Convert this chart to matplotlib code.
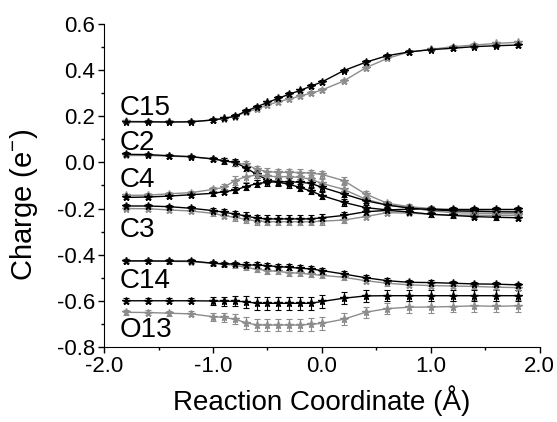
import numpy as np
import matplotlib
matplotlib.use("Agg")
import matplotlib.pyplot as plt
from matplotlib.ticker import MultipleLocator, FormatStrFormatter

plt.rcParams['font.family'] = ['Liberation Sans', 'DejaVu Sans']
plt.rcParams['mathtext.fontset'] = 'custom'
plt.rcParams['mathtext.rm'] = 'Liberation Sans'

# Reaction coordinate (Angstrom)
x = [-1.8, -1.6, -1.4, -1.2, -1.0, -0.9, -0.8, -0.7, -0.6, -0.5, -0.4, -0.3,
     -0.2, -0.1, 0.0, 0.2, 0.4, 0.6, 0.8, 1.0, 1.2, 1.4, 1.6, 1.8]

# charges, black = set 1, gray = set 2
c15_black = [0.176, 0.176, 0.175, 0.176, 0.184, 0.191, 0.200, 0.222, 0.241, 0.260, 0.278, 0.296,
             0.312, 0.331, 0.349, 0.398, 0.434, 0.463, 0.479, 0.489, 0.495, 0.502, 0.506, 0.509]
c15_gray = [0.178, 0.177, 0.176, 0.177, 0.184, 0.190, 0.199, 0.218, 0.231, 0.249, 0.263, 0.275,
            0.288, 0.300, 0.314, 0.353, 0.410, 0.451, 0.479, 0.490, 0.502, 0.509, 0.516, 0.521]
c2_black = [0.035, 0.034, 0.029, 0.025, 0.015, 0.007, 0.000, -0.023, -0.052, -0.076, -0.086, -0.095,
            -0.109, -0.124, -0.144, -0.173, -0.196, -0.206, -0.203, -0.203, -0.204, -0.204, -0.204, -0.204]
c2_gray = [0.030, 0.030, 0.027, 0.024, 0.015, 0.008, -0.002, -0.008, -0.030, -0.040, -0.043, -0.043,
           -0.044, -0.047, -0.052, -0.079, -0.137, -0.177, -0.192, -0.200, -0.208, -0.210, -0.212, -0.213]
c4_black = [-0.152, -0.150, -0.146, -0.140, -0.134, -0.127, -0.120, -0.105, -0.092, -0.086, -0.084, -0.084,
            -0.086, -0.091, -0.108, -0.137, -0.166, -0.185, -0.198, -0.205, -0.210, -0.212, -0.214, -0.215]
c4_gray = [-0.143, -0.142, -0.136, -0.131, -0.117, -0.108, -0.079, -0.062, -0.055, -0.060, -0.062, -0.062,
           -0.065, -0.073, -0.091, -0.117, -0.159, -0.185, -0.196, -0.210, -0.218, -0.220, -0.222, -0.223]
c3_black = [-0.189, -0.189, -0.192, -0.199, -0.209, -0.216, -0.224, -0.232, -0.242, -0.245, -0.245, -0.245,
            -0.245, -0.245, -0.240, -0.230, -0.214, -0.208, -0.215, -0.225, -0.230, -0.235, -0.238, -0.240]
c3_gray = [-0.200, -0.201, -0.206, -0.211, -0.221, -0.231, -0.238, -0.247, -0.254, -0.257, -0.257, -0.257,
           -0.257, -0.257, -0.255, -0.250, -0.235, -0.218, -0.220, -0.225, -0.228, -0.229, -0.230, -0.230]
c14_black = [-0.427, -0.427, -0.428, -0.428, -0.437, -0.440, -0.440, -0.445, -0.445, -0.448, -0.452, -0.455,
             -0.459, -0.462, -0.469, -0.484, -0.500, -0.513, -0.520, -0.521, -0.524, -0.527, -0.528, -0.531]
c14_gray = [-0.428, -0.428, -0.429, -0.430, -0.438, -0.442, -0.446, -0.455, -0.463, -0.469, -0.473, -0.478,
            -0.481, -0.485, -0.490, -0.498, -0.513, -0.524, -0.531, -0.534, -0.536, -0.538, -0.541, -0.543]
o13_black = [-0.600, -0.600, -0.600, -0.600, -0.601, -0.602, -0.602, -0.604, -0.611, -0.611, -0.611, -0.611,
             -0.611, -0.611, -0.603, -0.589, -0.579, -0.578, -0.578, -0.578, -0.578, -0.578, -0.578, -0.578]
o13_gray = [-0.650, -0.651, -0.654, -0.657, -0.669, -0.672, -0.680, -0.695, -0.705, -0.705, -0.705, -0.705,
            -0.705, -0.702, -0.698, -0.680, -0.650, -0.634, -0.628, -0.627, -0.625, -0.622, -0.624, -0.622]

# error bars (standard deviations)
err_small = [0.006, 0.006, 0.006, 0.006, 0.007, 0.007, 0.008, 0.008, 0.008, 0.008, 0.008, 0.008,
             0.008, 0.008, 0.008, 0.008, 0.008, 0.007, 0.007, 0.007, 0.007, 0.007, 0.007, 0.007]
err_mid = [0.008, 0.008, 0.008, 0.008, 0.010, 0.012, 0.014, 0.016, 0.016, 0.015, 0.015, 0.015,
           0.015, 0.015, 0.015, 0.014, 0.012, 0.010, 0.010, 0.010, 0.010, 0.010, 0.010, 0.010]
err_c4g = [0.008, 0.008, 0.008, 0.008, 0.012, 0.015, 0.020, 0.025, 0.022, 0.018, 0.018, 0.018,
           0.018, 0.020, 0.020, 0.020, 0.015, 0.010, 0.010, 0.010, 0.010, 0.010, 0.010, 0.010]
err_c14 = [0.010, 0.010, 0.010, 0.010, 0.010, 0.010, 0.010, 0.012, 0.012, 0.013, 0.013, 0.013,
           0.013, 0.013, 0.013, 0.012, 0.010, 0.010, 0.010, 0.010, 0.010, 0.010, 0.010, 0.010]
err_o13 = [0.011, 0.011, 0.011, 0.011, 0.018, 0.020, 0.022, 0.026, 0.027, 0.027, 0.027, 0.027,
           0.027, 0.027, 0.027, 0.026, 0.025, 0.025, 0.025, 0.025, 0.025, 0.025, 0.025, 0.025]

atom_labels = ['C15', 'C2', 'C4', 'C3', 'C14', 'O13']
label_y = [0.205, 0.054, -0.105, -0.322, -0.545, -0.757]

series = [
    (c15_black, c15_gray, err_small, err_small),
    (c2_black, c2_gray, err_mid, err_mid),
    (c4_black, c4_gray, err_mid, err_c4g),
    (c3_black, c3_gray, err_mid, err_mid),
    (c14_black, c14_gray, err_c14, err_c14),
    (o13_black, o13_gray, err_o13, err_o13),
]

fig = plt.figure(figsize=(5.57, 4.22), dpi=100)
ax = fig.add_axes([0.187, 0.178, 0.782, 0.765])

for yb, yg, eb, eg in series:
    ax.errorbar(x, yg, yerr=eg, color='#8c8c8c', ecolor='#8c8c8c', lw=1.0, elinewidth=0.8,
                capsize=2.5, capthick=0.8, marker='*', ms=5.5)
    ax.errorbar(x, yb, yerr=eb, color='black', ecolor='black', lw=1.0, elinewidth=0.8,
                capsize=2.5, capthick=0.8, marker='*', ms=5.5)

for lab, ly in zip(atom_labels, label_y):
    ax.text(-1.86, ly, lab, fontsize=20, ha='left', va='baseline')

ax.set_xlim(-2.0, 2.0)
ax.set_ylim(-0.8, 0.6)
ax.xaxis.set_major_locator(MultipleLocator(1.0))
ax.xaxis.set_minor_locator(MultipleLocator(0.5))
ax.yaxis.set_major_locator(MultipleLocator(0.2))
ax.yaxis.set_minor_locator(MultipleLocator(0.1))
ax.xaxis.set_major_formatter(FormatStrFormatter('%.1f'))
ax.yaxis.set_major_formatter(FormatStrFormatter('%.1f'))
ax.spines['top'].set_visible(False)
ax.spines['right'].set_visible(False)
ax.tick_params(which='major', direction='out', length=4, width=1, labelsize=16, pad=2.5)
ax.tick_params(which='minor', direction='out', length=2.5, width=1)

ax.set_xlabel('Reaction Coordinate (Å)', fontsize=20, labelpad=6)
ax.set_ylabel('Charge (e$^{-}$)', fontsize=21)
ax.yaxis.set_label_coords(-0.148, 0.44)

fig.savefig('out.png', dpi=100)
